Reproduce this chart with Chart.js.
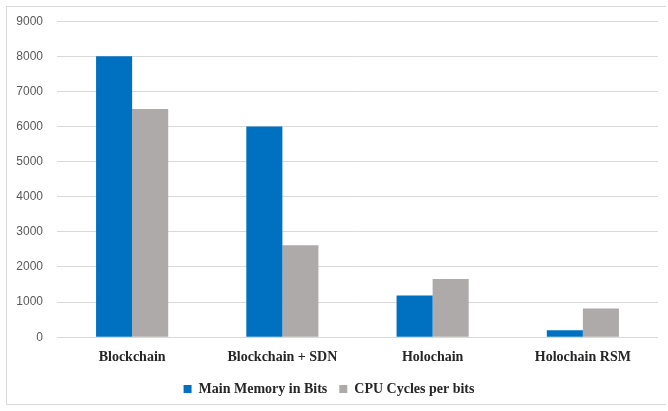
<!DOCTYPE html>
<html>
<head>
<meta charset="utf-8">
<script src="https://cdn.jsdelivr.net/npm/chart.js@4"></script>
<style>
  body { margin: 0; background: #fff; }
  #wrap { position: relative; width: 668px; height: 411px; }
  #frame { position: absolute; left: 6px; top: 6px; width: 660px; height: 399px; border: 1px solid #d9d9d9; box-sizing: border-box; border-right: none; }
  canvas { position: absolute; left: 0; top: 0; }
</style>
</head>
<body>
<div id="wrap">
  <div id="frame"></div>
  <canvas id="chart" width="668" height="411"></canvas>
</div>
<script>
var categories = ['Blockchain', 'Blockchain + SDN', 'Holochain', 'Holochain RSM'];
var mainMemory = [8000, 6000, 1190, 200];
var cpuCycles = [6500, 2620, 1660, 820];
var yTicks = [0, 1000, 2000, 3000, 4000, 5000, 6000, 7000, 8000, 9000];

document.addEventListener('DOMContentLoaded', function() {
    var ctx = document.getElementById('chart').getContext('2d');
    new Chart(ctx, {
        type: 'bar',
        data: {
            labels: categories,
            datasets: [{
                label: 'Main Memory in Bits',
                data: mainMemory,
                backgroundColor: '#0070c0',
                barPercentage: 1,
                categoryPercentage: 0.48
            }, {
                label: 'CPU Cycles per bits',
                data: cpuCycles,
                backgroundColor: '#aeaaaa',
                barPercentage: 1,
                categoryPercentage: 0.48
            }]
        },
        options: {
            responsive: false,
            animation: false,
            layout: {
                padding: { top: 19, right: 10, left: 0, bottom: 5 }
            },
            plugins: {
                legend: {
                    position: 'bottom',
                    labels: {
                        boxWidth: 8,
                        boxHeight: 8,
                        padding: 12,
                        color: '#262626',
                        font: { family: 'Liberation Serif', size: 14, weight: 'bold' }
                    }
                },
                tooltip: { enabled: false }
            },
            scales: {
                x: {
                    grid: { display: false },
                    border: { display: false },
                    ticks: {
                        color: '#262626',
                        padding: 4,
                        font: { family: 'Liberation Serif', size: 14, weight: 'bold' }
                    }
                },
                y: {
                    min: 0,
                    max: 9000,
                    afterBuildTicks: function(scale) {
                        scale.ticks = yTicks.map(function(v) { return { value: v }; });
                    },
                    afterFit: function(scale) { scale.width = 57; },
                    grid: { color: '#d9d9d9', drawTicks: false },
                    border: { display: false },
                    ticks: {
                        padding: 14,
                        color: '#595959',
                        font: { family: 'Liberation Sans', size: 12 },
                        callback: function(v) { return String(v); }
                    }
                }
            }
        }
    });
});
</script>
</body>
</html>
